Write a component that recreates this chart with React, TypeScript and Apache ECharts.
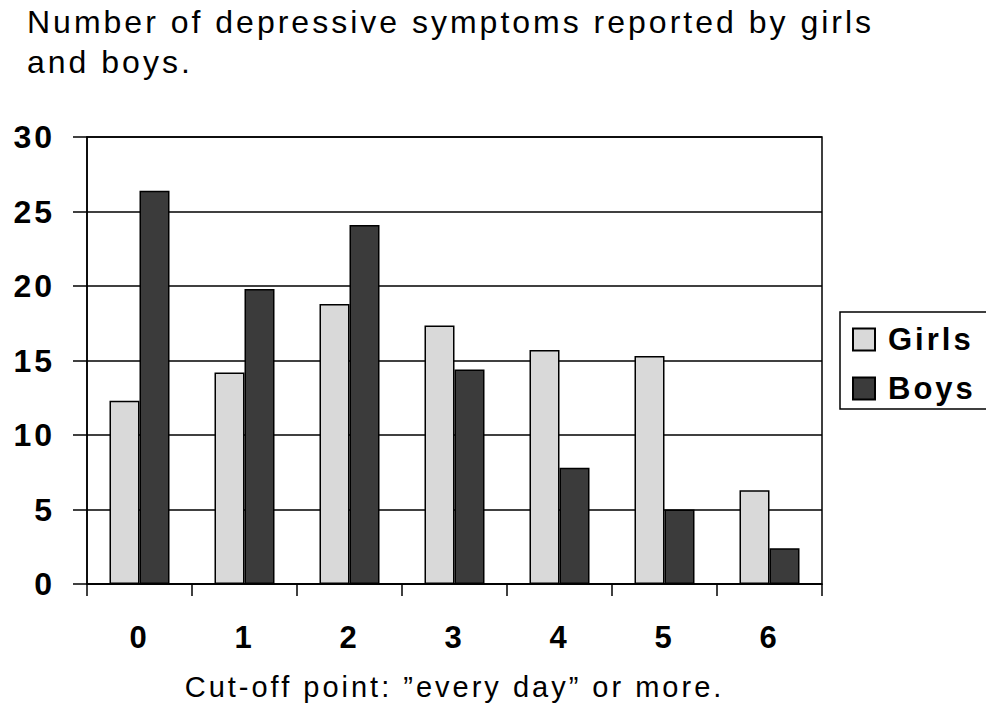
import React, { useEffect, useRef } from "react";
import * as echarts from "echarts";

const categories = ["0", "1", "2", "3", "4", "5", "6"];
const girls = [12.3, 14.2, 18.8, 17.35, 15.7, 15.3, 6.3];
const boys = [26.4, 19.8, 24.1, 14.4, 7.8, 5.0, 2.4];
const seriesNames = ["Girls", "Boys"];
const titleText = "Number of depressive symptoms reported by girls\nand boys.";
const xName = "Cut-off point: \u201devery day\u201d or more.";

const FONT = '"Liberation Sans", Arial, sans-serif';

export default function App() {
  const ref = useRef<HTMLDivElement>(null);
  useEffect(() => {
    document.body.style.margin = "0";
    if (!ref.current) return;
    const chart = echarts.init(ref.current, undefined, { renderer: "svg" });
    chart.setOption({
      animation: false,
      backgroundColor: "#ffffff",
      textStyle: { fontFamily: FONT, color: "#000" },
      title: {
        text: titleText,
        left: 27,
        top: 2,
        padding: 0,
        textStyle: {
          fontFamily: FONT,
          fontSize: 32,
          fontWeight: "normal",
          lineHeight: 40,
          color: "#000",
        },
      },
      legend: {
        orient: "vertical",
        left: 840,
        top: 312,
        padding: [12, 40, 5, 12],
        itemWidth: 22,
        itemHeight: 22,
        itemGap: 18,
        borderColor: "#000",
        borderWidth: 1.5,
        icon: "rect",
        textStyle: {
          fontFamily: FONT,
          fontSize: 31,
          fontWeight: "bold",
          color: "#000",
          padding: [0, 0, 0, 8],
        },
        data: seriesNames,
      },
      grid: {
        left: 87,
        right: 164,
        top: 137,
        bottom: 122,
        show: true,
        borderColor: "#000",
        borderWidth: 1.5,
        outerBoundsMode: "none",
        containLabel: false,
      },
      xAxis: {
        type: "category",
        data: categories,
        name: xName,
        nameLocation: "middle",
        nameGap: 88,
        nameTextStyle: { fontFamily: FONT, fontSize: 29, color: "#000" },
        axisLine: { lineStyle: { color: "#000", width: 1.5 } },
        axisTick: { show: true, length: 12, lineStyle: { color: "#000", width: 1.5 } },
        axisLabel: {
          fontFamily: FONT,
          fontSize: 31,
          fontWeight: "bold",
          color: "#000",
          margin: 38,
        },
      },
      yAxis: {
        type: "value",
        min: 0,
        max: 30,
        interval: 5,
        axisLine: { show: true, lineStyle: { color: "#000", width: 1.5 } },
        axisTick: { show: true, length: 14, lineStyle: { color: "#000", width: 1.5 } },
        splitLine: { show: true, lineStyle: { color: "#000", width: 1.5 } },
        axisLabel: {
          fontFamily: FONT,
          fontSize: 32,
          fontWeight: "bold",
          color: "#000",
          margin: 32,
        },
      },
      series: [
        {
          name: seriesNames[0],
          type: "bar",
          data: girls,
          barWidth: 30,
          barGap: "0%",
          itemStyle: { color: "#d9d9d9", borderColor: "#000", borderWidth: 1.5 },
        },
        {
          name: seriesNames[1],
          type: "bar",
          data: boys,
          barWidth: 30,
          barGap: "0%",
          itemStyle: { color: "#3b3b3b", borderColor: "#000", borderWidth: 1.5 },
        },
      ],
    });
    return () => chart.dispose();
  }, []);
  return (
    <div
      ref={ref}
      style={{ width: 986, height: 706, letterSpacing: "3px" }}
    />
  );
}
